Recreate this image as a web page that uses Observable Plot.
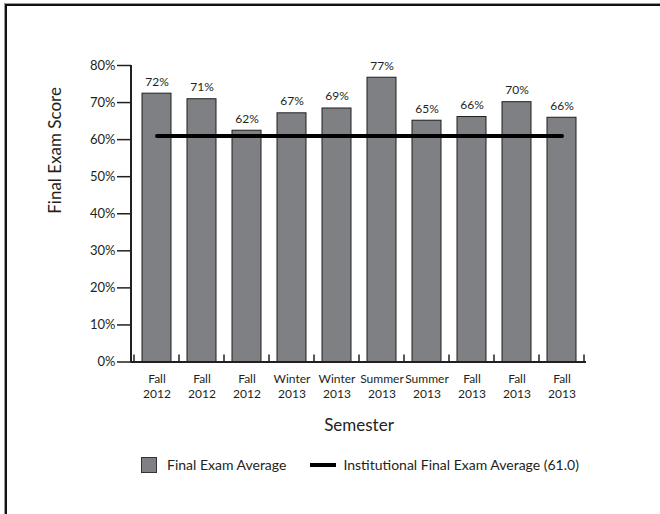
<!DOCTYPE html>
<html>
<head>
<meta charset="utf-8">
<script src="https://cdn.jsdelivr.net/npm/d3@7"></script>
<script src="https://cdn.jsdelivr.net/npm/@observablehq/plot@0.6"></script>
<style>
  html, body { margin: 0; padding: 0; background: #fff; }
  body { width: 660px; height: 514px; position: relative; overflow: hidden; font-family: Lato, "Open Sans", sans-serif; color: #231f20; }
  #frame { position: absolute; left: 5px; top: 4px; width: 700px; height: 560px; border-left: 2px solid #111; border-top: 2px solid #111; box-shadow: -1px -1px 0 #9a9a9a; }
  #chart { position: absolute; left: 0; top: 0; }
  #legend { position: absolute; top: 456px; left: 141px; display: flex; align-items: center; font-size: 14px; }
  .sw { width: 16px; height: 16px; background: #7f8084; border: 1px solid #333; box-sizing: border-box; }
  .ln { width: 26px; height: 4px; background: #000; }
</style>
</head>
<body>
<div id="frame"></div>
<div id="chart"></div>
<div id="legend">
  <div class="sw"></div><span id="l1" style="margin-left:10px"></span>
  <div class="ln" style="margin-left:24px"></div><span id="l2" style="margin-left:7px"></span>
</div>
<script>
const semesters = ["Fall\n2012","Fall\n2012","Fall\n2012","Winter\n2013","Winter\n2013","Summer\n2013","Summer\n2013","Fall\n2013","Fall\n2013","Fall\n2013"];
const scores = [72.4, 70.9, 62.4, 67.1, 68.4, 76.7, 65.1, 66.1, 70.1, 65.9];
const scoreLabels = ["72%","71%","62%","67%","69%","77%","65%","66%","70%","66%"];
const institutionalAvg = 61.0;
const yTicks = [0,10,20,30,40,50,60,70,80];
const seriesNames = ["Final Exam Average", "Institutional Final Exam Average (61.0)"];

const idx = semesters.map((_, i) => i);
const ink = "#231f20";

function bandTicks(index, scales, values, dimensions) {
  const x = scales.x, y = scales.y;
  const step = x.step(), bw = x.bandwidth();
  const y0 = y(0);
  const g = d3.create("svg:g");
  const bounds = idx.map(i => x(i) + bw / 2 - step / 2);
  bounds.push(x(idx[idx.length - 1]) + bw / 2 + step / 2);
  g.selectAll("line.t").data(bounds).join("line")
    .attr("x1", d => d).attr("x2", d => d)
    .attr("y1", y0).attr("y2", y0 - 7)
    .attr("stroke", ink).attr("stroke-width", 1.5);
  g.append("line")
    .attr("x1", dimensions.marginLeft).attr("x2", dimensions.marginLeft)
    .attr("y1", y(yTicks[yTicks.length - 1])).attr("y2", y0 + 1)
    .attr("stroke", ink).attr("stroke-width", 2);
  return g.node();
}

const chart = Plot.plot({
  width: 660,
  height: 445,
  marginLeft: 131,
  marginRight: 74,
  marginTop: 65,
  marginBottom: 83.5,
  style: { fontFamily: "Lato, 'Open Sans', sans-serif", color: ink, background: "transparent" },
  x: { type: "band", domain: idx, paddingInner: 0.36, paddingOuter: 0.18, axis: null },
  y: { domain: [0, 80], axis: null },
  marks: [
    Plot.barY(idx, { x: i => i, y: i => scores[i], fill: "#7f8084", stroke: "#1f1f1f", strokeWidth: 1 }),
    Plot.lineY(idx, { x: i => i, y: () => institutionalAvg, stroke: "#000", strokeWidth: 4 }),
    Plot.text(idx, { x: i => i, y: i => scores[i], text: i => scoreLabels[i], dy: -12, fontSize: 12, fill: ink }),
    Plot.ruleY([0], { stroke: ink, strokeWidth: 2 }),
    Plot.axisY({ ticks: yTicks, tickFormat: d => d + "%", tickSize: 14, tickPadding: 2, fontSize: 13, strokeWidth: 1.5, label: null, fill: ink, stroke: ink }),
    Plot.axisX({ tickFormat: i => semesters[i], tickSize: 0, tickPadding: 10, fontSize: 12, lineHeight: 1.25, label: null, fill: ink }),
    Plot.text(["Final Exam Score"], { frameAnchor: "left", dx: -76, rotate: -90, fontSize: 17, fill: ink }),
    Plot.text(["Semester"], { frameAnchor: "bottom", dy: 68.5, fontSize: 17, fill: ink }),
    bandTicks
  ]
});
document.getElementById("chart").appendChild(chart);
document.getElementById("l1").textContent = seriesNames[0];
document.getElementById("l2").textContent = seriesNames[1];
</script>
</body>
</html>
